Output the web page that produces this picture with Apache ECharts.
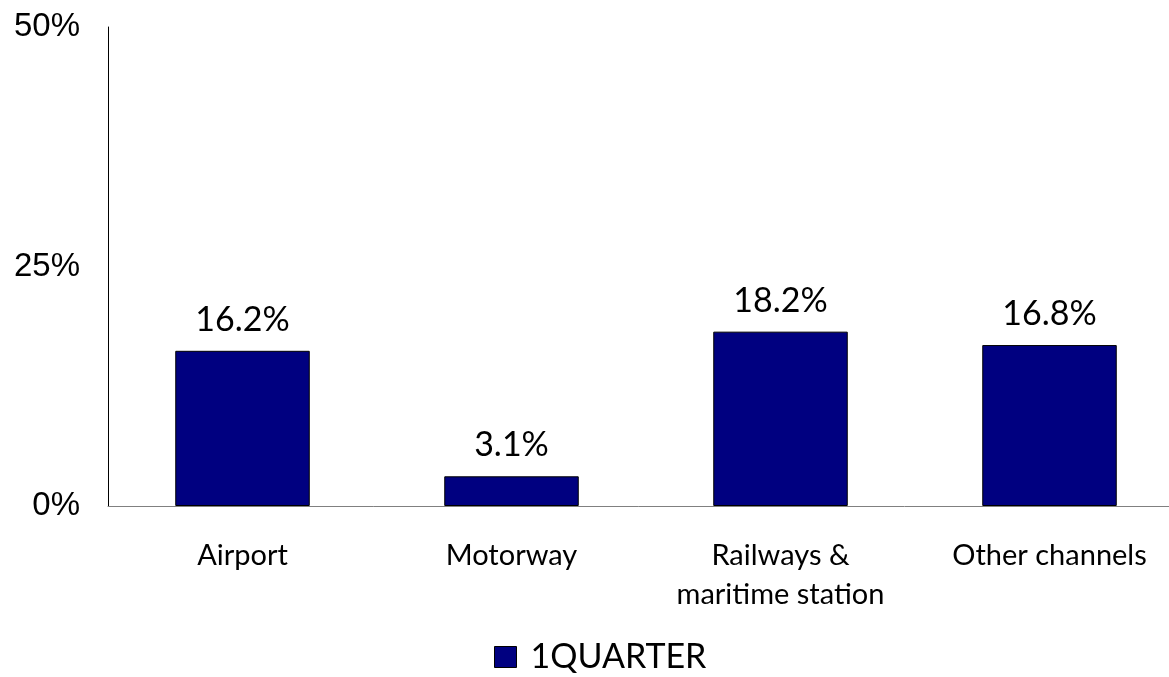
<!DOCTYPE html>
<html>
<head>
<meta charset="utf-8">
<script src="https://cdn.jsdelivr.net/npm/echarts@6/dist/echarts.min.js"></script>
<style>
  html, body { margin: 0; padding: 0; background: #fff; }
  #chart { width: 1169px; height: 677px; }
</style>
</head>
<body>
<div id="chart"></div>
<script>
// Share of sales by channel, first quarter
const categories = ['Airport', 'Motorway', 'Railways &\nmaritime station', 'Other channels'];
const seriesName = '1QUARTER';
const values = [16.2, 3.1, 18.2, 16.8];
const yTicks = [0, 25, 50];

const chart = echarts.init(document.getElementById('chart'), null, { renderer: 'canvas' });
const mainFont = 'Lato, "Open Sans", sans-serif';

chart.setOption({
  animation: false,
  backgroundColor: '#ffffff',
  grid: {
    left: 108, top: 27, bottom: 171, width: 1076,
    containLabel: false,
    outerBoundsMode: 'none'
  },
  legend: {
    data: [seriesName],
    bottom: -2,
    left: 489,
    icon: 'rect',
    itemWidth: 22,
    itemHeight: 21,
    itemGap: 10,
    itemStyle: { borderColor: '#000', borderWidth: 1 },
    textStyle: { fontFamily: mainFont, fontSize: 34, color: '#000', padding: [0, 0, 0, 9] }
  },
  xAxis: {
    type: 'category',
    data: categories,
    axisLine: { lineStyle: { color: '#808080', width: 1 } },
    axisTick: { show: false },
    axisLabel: {
      interval: 0,
      margin: 30,
      color: '#000',
      fontFamily: mainFont,
      fontSize: 29,
      lineHeight: 39
    }
  },
  yAxis: {
    type: 'value',
    min: yTicks[0],
    max: yTicks[yTicks.length - 1],
    interval: 25,
    splitLine: { show: false },
    axisLine: { show: true, lineStyle: { color: '#000', width: 1 } },
    axisTick: { show: false },
    axisLabel: {
      margin: 28,
      color: '#000',
      fontFamily: '"Liberation Sans", Arial, sans-serif',
      fontSize: 33,
      formatter: v => v + '%'
    }
  },
  series: [{
    name: seriesName,
    type: 'bar',
    data: values,
    barWidth: '50%',
    itemStyle: { color: '#000080', borderColor: '#000', borderWidth: 1 },
    label: {
      show: true,
      position: 'top',
      distance: 14,
      color: '#000',
      fontFamily: mainFont,
      fontSize: 34,
      formatter: p => p.value.toFixed(1) + '%'
    }
  }]
});
</script>
</body>
</html>
